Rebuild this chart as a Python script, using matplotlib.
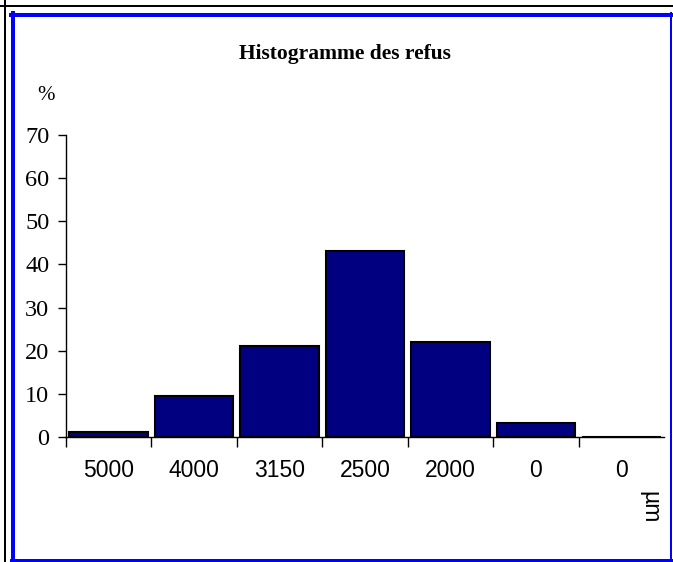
import matplotlib
matplotlib.use("Agg")
import matplotlib.pyplot as plt
from matplotlib.lines import Line2D

# data
sizes = ["5000", "4000", "3150", "2500", "2000", "0", "0"]
refus = [1.2, 9.5, 21.2, 43.2, 22.1, 3.3, 0.0]
y_ticks = [0, 10, 20, 30, 40, 50, 60, 70]

W, H = 673, 562
fig = plt.figure(figsize=(W / 100, H / 100), dpi=100)
fig.patch.set_facecolor("white")


def px_x(x):
    return x / W


def px_y(y):
    return 1 - y / H


# outer frames (black page border, blue chart border)
frames = [
    ((0, W), (5.5, 5.5), "black", 2),
    ((4.5, 4.5), (0, H), "black", 2),
    ((11, W), (15, 15), "#0000ff", 4),
    ((13, 13), (13, 561), "#0000ff", 4),
    ((671, 671), (13, 561), "#0000ff", 2),
    ((11, 672), (559.5, 559.5), "#0000ff", 3),
]
for xs, ys, col, lw in frames:
    fig.add_artist(Line2D([px_x(v) for v in xs], [px_y(v) for v in ys],
                          color=col, linewidth=lw * 0.72, transform=fig.transFigure))

ax = fig.add_axes([px_x(66), px_y(437), px_x(664 - 66), (437 - 135) / H])
pos = list(range(len(sizes)))
ax.bar(pos, refus, width=0.92, color="#000080", edgecolor="black", linewidth=1.5, zorder=3)

ax.set_xlim(-0.5, len(sizes) - 0.5)
ax.set_ylim(0, 70)
ax.set_yticks(y_ticks)
ax.set_yticklabels([str(v) for v in y_ticks], fontfamily="Liberation Serif", fontsize=17.5)
ax.set_xticks([p + 0.5 for p in pos[:-1]] + [-0.5], minor=False)
ax.set_xticklabels([])
ax.set_xticks(pos, minor=True)
ax.set_xticklabels(sizes, minor=True, fontfamily="Liberation Sans", fontsize=16.5)
ax.tick_params(axis="x", which="major", length=7, width=1, direction="out")
ax.tick_params(axis="x", which="minor", length=0, pad=16)
ax.tick_params(axis="y", length=6, width=1, direction="out", pad=6)
for s in ["top", "right"]:
    ax.spines[s].set_visible(False)
ax.spines["left"].set_linewidth(1)
ax.spines["bottom"].set_linewidth(1)

fig.text(px_x(345), px_y(54), "Histogramme des refus", ha="center", va="center",
         fontfamily="Liberation Serif", fontweight="bold", fontsize=15.5)
fig.text(px_x(46), px_y(96), "%", ha="center", va="center",
         fontfamily="Liberation Serif", fontsize=15)
fig.text(px_x(650), px_y(507), "µm", ha="center", va="center", rotation=270,
         fontfamily="Liberation Sans", fontsize=16.5)

fig.savefig("out.png", dpi=100)
